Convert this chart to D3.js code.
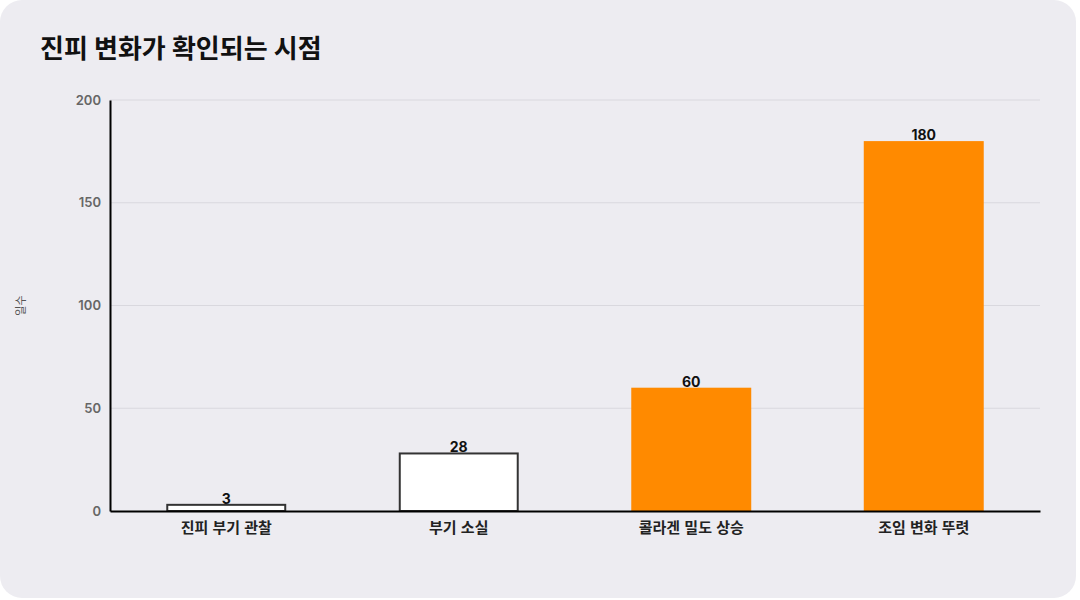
<!DOCTYPE html>
<html lang="ko">
  <head>
    <meta charset="UTF-8" />
    <title>진피 변화가 확인되는 시점</title>
    <script src="https://cdnjs.cloudflare.com/ajax/libs/d3/7.8.5/d3.min.js"></script>
    <style>
      html, body { margin: 0; padding: 0; background: #ffffff; }
      svg { display: block; font-family: Inter, "Noto Sans CJK KR", sans-serif; }
    </style>
  </head>
  <body>
    <div id="chart"></div>
    <script>
      /** Data */
      const categories = ["진피 부기 관찰", "부기 소실", "콜라겐 밀도 상승", "조임 변화 뚜렷"];
      const days = [3, 28, 60, 180];
      const highlighted = [false, false, true, true];
      const yTicks = [0, 50, 100, 150, 200];

      /** Layout */
      const width = 1080;
      const height = 600;
      const margin = { top: 100, right: 40, bottom: 89, left: 110 };
      const orange = "#ff8a00";

      const svg = d3.select("#chart").append("svg")
        .attr("width", width)
        .attr("height", height);

      // card background
      svg.append("rect")
        .attr("x", 0).attr("y", 0)
        .attr("width", 1076).attr("height", 598)
        .attr("rx", 22)
        .attr("fill", "#edecf1");

      svg.append("text")
        .attr("x", 40).attr("y", 58)
        .attr("font-size", 26).attr("font-weight", 700)
        .attr("fill", "#111")
        .text("진피 변화가 확인되는 시점");

      const x = d3.scaleBand()
        .domain(categories)
        .range([margin.left, width - margin.right])
        .paddingInner(0.484)
        .paddingOuter(0.242);

      const y = d3.scaleLinear()
        .domain([0, 200])
        .range([height - margin.bottom, margin.top]);

      // grid
      svg.append("g")
        .selectAll("line")
        .data(yTicks.filter(d => d > 0))
        .join("line")
        .attr("x1", margin.left).attr("x2", width - margin.right)
        .attr("y1", d => y(d)).attr("y2", d => y(d))
        .attr("stroke", "#d9d8de").attr("stroke-width", 1);

      // y axis
      const yAxis = svg.append("g")
        .attr("transform", `translate(${margin.left},0)`)
        .call(d3.axisLeft(y).tickValues(yTicks).tickSize(0).tickPadding(9));
      yAxis.select(".domain").attr("stroke", "#000").attr("stroke-width", 2);
      yAxis.selectAll("text")
        .attr("font-size", 13).attr("font-weight", 600)
        .attr("fill", "#666").attr("font-family", "Inter, sans-serif");

      svg.append("text")
        .attr("transform", `translate(25,${(margin.top + height - margin.bottom) / 2}) rotate(-90)`)
        .attr("text-anchor", "middle")
        .attr("font-size", 11).attr("fill", "#555")
        .text("일수");

      // bars
      const data = categories.map((c, i) => ({ c, v: days[i], hi: highlighted[i] }));

      svg.append("g")
        .selectAll("rect")
        .data(data)
        .join("rect")
        .attr("x", d => x(d.c) + (d.hi ? 0 : 1))
        .attr("width", d => x.bandwidth() - (d.hi ? 0 : 2))
        .attr("y", d => y(d.v))
        .attr("height", d => y(0) - y(d.v))
        .attr("fill", d => d.hi ? orange : "#ffffff")
        .attr("stroke", d => d.hi ? "none" : "#333")
        .attr("stroke-width", 2);

      svg.append("g")
        .selectAll("text")
        .data(data)
        .join("text")
        .attr("x", d => x(d.c) + x.bandwidth() / 2)
        .attr("y", d => y(d.v) - 1)
        .attr("text-anchor", "middle")
        .attr("font-size", 14).attr("font-weight", 700)
        .attr("fill", "#111")
        .text(d => d.v);

      // x axis
      const xAxis = svg.append("g")
        .attr("transform", `translate(0,${height - margin.bottom})`)
        .call(d3.axisBottom(x).tickSize(0).tickPadding(11));
      xAxis.select(".domain").attr("stroke", "#000").attr("stroke-width", 2);
      xAxis.selectAll("text")
        .attr("font-size", 15).attr("font-weight", 700)
        .attr("fill", "#222").attr("font-family", "'Noto Sans CJK KR', sans-serif");
    </script>
  </body>
</html>
